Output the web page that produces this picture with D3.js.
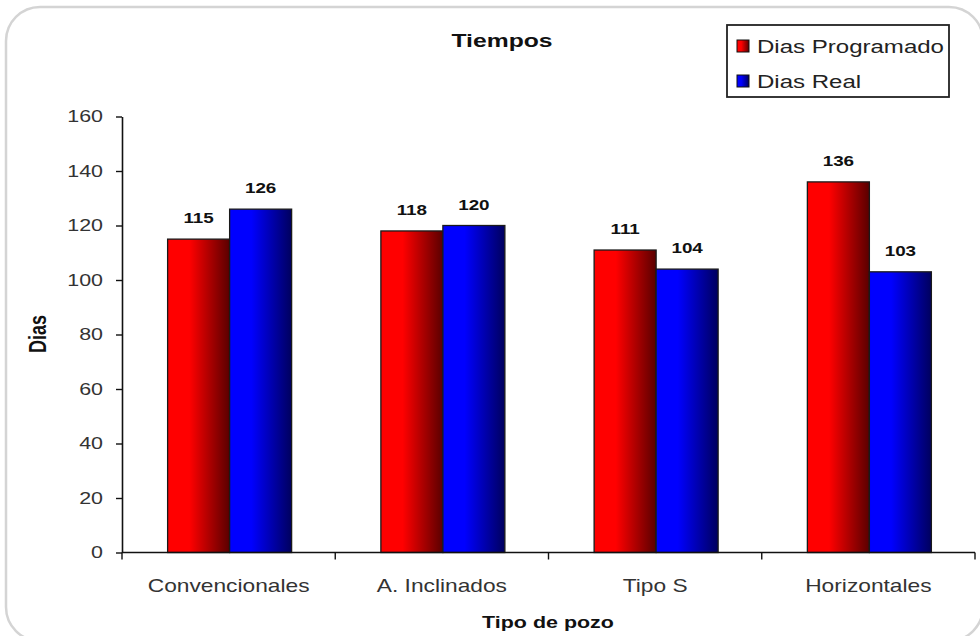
<!DOCTYPE html>
<html>
<head>
<meta charset="utf-8">
<script src="https://cdn.jsdelivr.net/npm/d3@7"></script>
<style>
  html, body { margin: 0; padding: 0; background: #fff; }
  svg { display: block; font-family: Arial, "Liberation Sans", sans-serif; }
</style>
</head>
<body>
<svg id="chart" width="980" height="636"></svg>
<script>
// Well types and scheduled vs. actual days
const categories = ["Convencionales", "A. Inclinados", "Tipo S", "Horizontales"];
const seriesNames = ["Dias Programado", "Dias Real"];
const programado = [115, 118, 111, 136];
const real = [126, 120, 104, 103];
const yTicks = [0, 20, 40, 60, 80, 100, 120, 140, 160];

// All lettering is drawn horizontally widened
const SX = 1.3;

const svg = d3.select("#chart");

// Places a text element at (x, y) with the horizontal widening applied
function placeText(sel, x, y, rotate) {
  return sel.attr("x", 0).attr("y", 0)
    .attr("transform", `translate(${x},${y}) scale(${SX},1)` + (rotate ? ` rotate(${rotate})` : ""));
}

// Rounded panel frame
svg.append("rect")
  .attr("x", 6).attr("y", 7)
  .attr("width", 977).attr("height", 634)
  .attr("rx", 34).attr("ry", 34)
  .attr("fill", "#fff")
  .attr("stroke", "#d4d4d4")
  .attr("stroke-width", 2.5);

// Horizontal gradients for the bars
const defs = svg.append("defs");
const grads = [
  { id: "gradRed", from: "#ff0000", to: "#5a0000" },
  { id: "gradBlue", from: "#0000ff", to: "#00005e" }
];
grads.forEach(g => {
  const lg = defs.append("linearGradient").attr("id", g.id)
    .attr("x1", "0%").attr("x2", "100%").attr("y1", "0%").attr("y2", "0%");
  lg.append("stop").attr("offset", "0%").attr("stop-color", g.from);
  lg.append("stop").attr("offset", "35%").attr("stop-color", g.from);
  lg.append("stop").attr("offset", "100%").attr("stop-color", g.to);
});
const fills = ["url(#gradRed)", "url(#gradBlue)"];

const x0 = d3.scaleBand().domain(categories).range([122, 975]).paddingInner(0).paddingOuter(0);
const x1 = d3.scaleBand().domain(seriesNames).range([0, 124]).padding(0);
const y = d3.scaleLinear().domain([0, 160]).range([552.5, 116.5]);

const rows = categories.map((c, i) => ({ cat: c, vals: [programado[i], real[i]] }));

// Bars
const groups = svg.append("g").selectAll("g").data(rows).join("g")
  .attr("transform", d => `translate(${x0(d.cat) + (x0.bandwidth() - 124) / 2 + 1},0)`);

groups.selectAll("rect").data(d => d.vals.map((v, k) => ({ v, k })))
  .join("rect")
  .attr("x", d => x1(seriesNames[d.k]))
  .attr("y", d => y(d.v))
  .attr("width", x1.bandwidth())
  .attr("height", d => y(0) - y(d.v))
  .attr("fill", d => fills[d.k])
  .attr("stroke", "#1a1a1a")
  .attr("stroke-width", 1.3);

// Value labels
groups.selectAll("text").data(d => d.vals.map((v, k) => ({ v, k })))
  .join("text")
  .each(function (d) {
    placeText(d3.select(this), x1(seriesNames[d.k]) + x1.bandwidth() / 2, y(d.v) - 16);
  })
  .attr("text-anchor", "middle")
  .attr("font-size", 14.5)
  .attr("font-weight", "bold")
  .attr("fill", "#111")
  .text(d => d.v);

// Y axis
const yAxis = svg.append("g")
  .attr("transform", "translate(122,0)")
  .call(d3.axisLeft(y).tickValues(yTicks).tickSize(6).tickSizeOuter(0).tickPadding(13));
yAxis.select(".domain").attr("stroke", "#111").attr("stroke-width", 1.6);
yAxis.selectAll(".tick line").attr("stroke", "#111").attr("stroke-width", 1.4);
yAxis.selectAll(".tick text")
  .attr("font-size", 16.5).attr("fill", "#333")
  .attr("font-family", "Arial, 'Liberation Sans', sans-serif")
  .each(function () {
    const t = d3.select(this);
    const xPos = +t.attr("x");
    t.attr("x", xPos / SX).attr("transform", `scale(${SX},1)`);
  });

// X axis with ticks at the category boundaries
const xAxisG = svg.append("g").attr("transform", "translate(0,552.5)");
xAxisG.append("line").attr("x1", 122).attr("x2", 975).attr("y1", 0).attr("y2", 0)
  .attr("stroke", "#111").attr("stroke-width", 1.6);
const boundaries = categories.map(c => x0(c)).concat([x0.range()[1]]);
xAxisG.selectAll("line.tk").data(boundaries).join("line").attr("class", "tk")
  .attr("x1", d => d).attr("x2", d => d).attr("y1", 0).attr("y2", 7)
  .attr("stroke", "#111").attr("stroke-width", 1.4);
xAxisG.selectAll("text").data(categories).join("text")
  .each(function (d) { placeText(d3.select(this), x0(d) + x0.bandwidth() / 2, 39); })
  .attr("text-anchor", "middle")
  .attr("font-size", 17.5)
  .attr("fill", "#333")
  .text(d => d);

// Titles
placeText(svg.append("text"), 502, 47)
  .attr("text-anchor", "middle")
  .attr("font-size", 19).attr("font-weight", "bold").attr("fill", "#111").text("Tiempos");
placeText(svg.append("text"), 548, 628)
  .attr("text-anchor", "middle")
  .attr("font-size", 16.5).attr("font-weight", "bold").attr("fill", "#111").text("Tipo de pozo");
placeText(svg.append("text"), 46, 334, -90)
  .attr("text-anchor", "middle")
  .attr("font-size", 18).attr("font-weight", "bold").attr("fill", "#111").text("Dias");

// Legend
const lg = svg.append("g");
lg.append("rect").attr("x", 727).attr("y", 25).attr("width", 222).attr("height", 72)
  .attr("fill", "#fff").attr("stroke", "#222").attr("stroke-width", 1.8);
const items = lg.selectAll("g").data(seriesNames).join("g")
  .attr("transform", (d, i) => `translate(737,${40 + i * 35})`);
items.append("rect").attr("width", 12).attr("height", 12)
  .attr("fill", (d, i) => fills[i]).attr("stroke", "#111").attr("stroke-width", 1);
items.append("text")
  .each(function () { placeText(d3.select(this), 20, 13); })
  .attr("font-size", 18.5)
  .attr("fill", "#222").text(d => d);
</script>
</body>
</html>
